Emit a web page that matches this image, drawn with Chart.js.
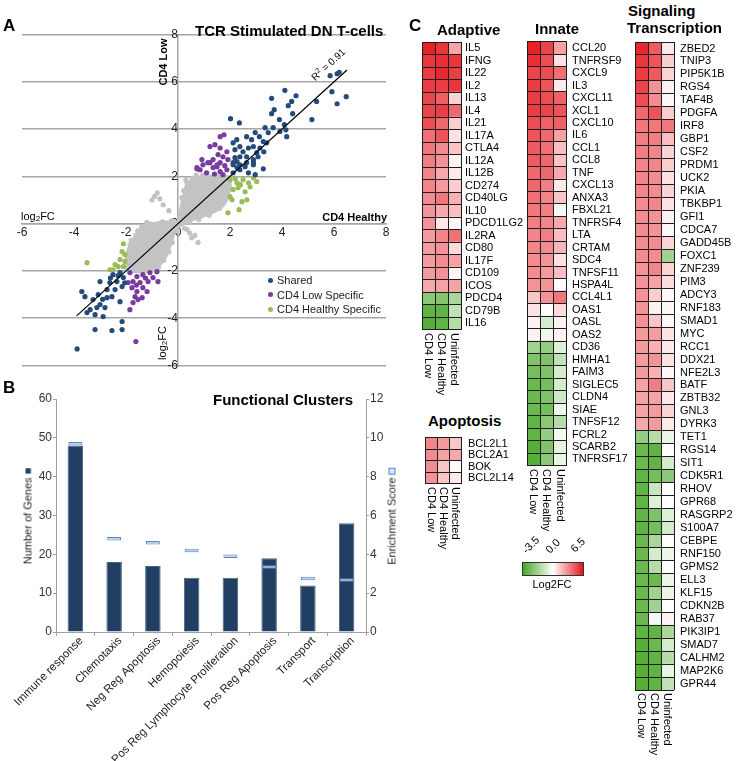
<!DOCTYPE html>
<html><head><meta charset="utf-8">
<script src="https://cdn.jsdelivr.net/npm/chart.js@4.4.0/dist/chart.umd.min.js"></script>
<style>
html,body{margin:0;padding:0;background:#fff;}
body{width:736px;height:761px;position:relative;overflow:hidden;font-family:'Liberation Sans',Arial,sans-serif;color:#000;}
.t{position:absolute;white-space:nowrap;line-height:1;}
canvas{position:absolute;}
</style></head><body>
<script>
// ---------------- DATA ----------------
// Panel A: log2FC (x = CD4 Healthy, y = CD4 Low)
const sharedPts = [[2.02,4.44],[2.36,4.26],[2.9,2.6],[4.11,5.64],[3.6,5.3],[4.54,5.41],[4.37,5.17],[4.24,4.99],[3.7,4.82],[3.6,4.65],[3.9,4.4],[4.41,4.65],[4.09,4.19],[3.92,3.9],[4.15,3.97],[4.18,3.68],[3.35,4.06],[3.47,3.85],[3.66,4.06],[2.97,3.85],[3.13,3.68],[2.64,3.68],[2.83,3.55],[3.28,3.47],[3.41,3.42],[2.9,3.26],[2.71,3.2],[3.15,3.2],[3.3,3.04],[3.03,3.0],[2.26,3.55],[2.12,3.42],[2.38,3.26],[2.19,3.13],[2.5,3.04],[2.64,2.83],[2.38,2.83],[2.19,2.79],[2.9,2.71],[3.08,2.83],[2.9,2.49],[2.64,2.58],[2.38,2.49],[2.12,2.49],[2.27,2.62],[2.12,2.58],[2.71,2.15],[2.97,2.07],[3.28,2.32],[2.38,2.28],[2.12,2.15],[2.58,2.41],[2.27,2.37],[5.85,6.26],[6.12,6.34],[6.2,6.4],[5.33,5.17],[5.92,5.58],[6.47,5.37],[6.12,5.07],[5.15,4.4],
  [-2.5,-2.16],[-2.23,-2.07],[-2.1,-2.28],[-2.35,-2.45],[-2.62,-2.49],[-2.15,-2.66],[-2.42,-2.79],[-2.73,-2.79],[-3.0,-2.45],[-3.07,-3.0],[-2.73,-3.13],[-3.27,-3.21],[-3.7,-2.87],[-3.58,-3.09],[-3.12,-3.55],[-2.81,-3.55],[-3.5,-3.76],[-3.19,-3.85],[-2.88,-3.93],[-2.23,-3.3],[-2.54,-3.09],[-3.0,-3.42],[-2.15,-4.14],[-3.19,-4.48],[-2.54,-4.52],[-2.15,-4.48],[-3.88,-5.3],[-3.38,-3.64],[-2.3,-2.2],[-2.05,-2.5],[-2.6,-2.3],[-2.9,-3.2]];
const lowSpecificPts = [[1.62,3.68],[1.77,3.76],[1.23,3.26],[1.42,3.34],[1.62,3.2],[1.88,3.04],[1.54,2.92],[1.73,2.83],[1.35,2.71],[1.15,2.58],[0.92,2.71],[0.73,2.37],[1.62,2.58],[1.92,2.71],[1.5,2.41],[0.85,2.28],[1.1,2.15],[1.35,2.37],[1.62,2.2],[1.88,2.28],[0.96,2.49],[1.5,2.49],[1.73,2.07],[0.73,2.32],[1.23,2.58],[1.8,2.45],[1.4,2.1],
  [-1.85,-2.07],[-1.58,-2.24],[-1.35,-2.16],[-1.08,-2.07],[-0.81,-2.03],[-1.73,-2.45],[-1.46,-2.49],[-1.15,-2.45],[-0.96,-2.28],[-0.77,-2.45],[-1.77,-2.71],[-1.58,-2.87],[-1.35,-2.71],[-1.19,-2.87],[-1.65,-3.09],[-1.38,-3.13],[-1.85,-3.64],[-1.73,-3.34],[-1.54,-3.21],[-1.92,-2.49],[-1.62,-4.99],[-1.25,-2.3],[-1.6,-2.6]];
const healthySpecificPts = [[2.0,1.86],[2.27,1.73],[2.5,1.86],[2.71,1.73],[2.9,1.94],[2.31,1.52],[2.12,1.44],[2.58,1.35],[2.77,1.56],[2.0,1.14],[2.08,1.01],[2.46,0.93],[2.65,1.01],[2.35,0.59],[1.92,0.46],[3.03,1.78],[2.2,1.9],[2.4,1.65],
  [-2.1,-0.85],[-3.5,-1.65],[-2.62,-1.95],[-2.42,-1.73],[-2.23,-1.52],[-2.04,-1.31],[-2.3,-1.82],[-2.1,-1.82],[-2.04,-1.6],[-2.5,-1.95],[-2.15,-1.18]];
const grayCloud = [[0.0,0.1],[0.1,0.7],[0.2,1.2],[0.3,1.6],[0.5,1.85],[0.9,2.02],[1.4,2.02],[1.98,1.98],[1.98,1.3],[1.75,0.75],[1.25,0.4],[0.7,0.2],[0.2,-0.05],[-0.05,-0.2],[-0.2,-0.65],[-0.45,-1.4],[-0.95,-1.97],[-1.96,-1.97],[-1.96,-1.2],[-1.72,-0.65],[-1.35,-0.1],[-0.8,0.05],[-0.3,0.1],[0.0,0.1]];
const grayPts = [[-1.0,1.0],[-0.8,1.3],[-0.57,0.8],[-0.7,1.05],[-0.35,0.55],[-0.9,1.15],[0.35,-0.25],[0.53,-0.6],[0.77,-0.8],[0.45,-0.4],[0.25,-0.2],[0.65,-0.5],
  [0.1,0.5],[0.15,1.1],[0.22,1.4],[0.35,1.7],[0.55,1.92],[0.95,2.05],[1.5,2.0],[1.85,1.85],[1.98,1.55],[1.9,1.15],[1.6,0.65],[1.2,0.35],[0.8,0.18],[0.45,0.08],
  [-0.08,-0.3],[-0.22,-0.8],[-0.35,-1.2],[-0.55,-1.55],[-0.75,-1.85],[-1.1,-1.97],[-1.5,-1.97],[-1.95,-1.75],[-1.97,-1.35],[-1.85,-0.9],[-1.62,-0.5],[-1.4,-0.15],[-1.05,-0.02],[-0.6,0.08],[-0.25,0.12],
  [-1.55,-0.3],[-1.2,0.05],[-1.8,-0.7],[1.75,1.0],[1.95,1.8],[0.3,1.85],[0.7,2.05]];
const fitLine = [[-3.9,-3.9],[6.5,6.5]];
const axisTicksA = [-6,-4,-2,0,2,4,6,8];

// Panel B
const clusters = ['Immune response','Chemotaxis','Neg Reg Apoptosis','Hemopoiesis','Pos Reg Lymphocyte Proliferation','Pos Reg Apoptosis','Transport','Transcription'];
const geneCounts = [48,18,17,14,14,19,12,28];
const enrichment = [9.7,4.8,4.6,4.2,3.9,3.35,2.75,2.68];

// Panel C heatmaps (log2FC: CD4 Low, CD4 Healthy, Uninfected)
const conditions = ['CD4 Low','CD4 Healthy','Uninfected'];
const adaptiveGenes = ['IL5','IFNG','IL22','IL2','IL13','IL4','IL21','IL17A','CTLA4','IL12A','IL12B','CD274','CD40LG','IL10','PDCD1LG2','IL2RA','CD80','IL17F','CD109','ICOS','PDCD4','CD79B','IL16'];
const adaptiveLow = [6.2,5.6,5.4,5.4,5.2,5.2,5.0,4.0,3.8,3.6,3.4,3.4,3.2,3.0,3.0,2.8,2.8,2.8,2.8,2.4,-2.2,-3.0,-3.2];
const adaptiveHealthy = [5.6,5.8,6.0,5.4,4.5,5.4,4.2,4.8,3.2,3.0,2.4,2.8,3.8,2.4,0.6,3.4,3.0,3.2,3.0,2.6,-2.3,-3.0,-3.0];
const adaptiveUninf = [2.5,5.6,5.4,5.6,1.2,4.2,1.4,0.8,1.6,0.4,0.6,1.4,2.2,1.8,0.2,4.0,1.0,2.6,0.3,2.6,-1.6,-1.2,-1.4];

const innateGenes = ['CCL20','TNFRSF9','CXCL9','IL3','CXCL11','XCL1','CXCL10','IL6','CCL1','CCL8','TNF','CXCL13','ANXA3','FBXL21','TNFRSF4','LTA','CRTAM','SDC4','TNFSF11','HSPA4L','CCL4L1','OAS1','OASL','OAS2','CD36','HMHA1','FAIM3','SIGLEC5','CLDN4','SIAE','TNFSF12','FCRL2','SCARB2','TNFRSF17'];
const innateLow = [6.2,5.8,5.2,5.4,5.4,5.4,5.0,4.8,4.6,4.6,4.2,4.2,4.0,3.8,3.6,3.4,3.4,3.2,3.2,3.0,1.6,0.8,0.4,0.4,-1.8,-2.4,-2.6,-2.8,-2.8,-2.8,-3.0,-3.0,-3.2,-3.2];
const innateHealthy = [5.2,5.0,5.0,4.8,5.0,5.2,4.4,4.2,4.0,4.2,4.2,3.6,3.4,3.6,3.4,3.6,3.2,3.0,2.8,3.0,3.0,0.0,-0.8,-0.3,-2.0,-2.4,-2.4,-2.6,-2.4,-2.6,-2.2,-2.0,-2.4,-2.2];
const innateUninf = [2.6,0.8,4.0,0.6,4.4,4.8,4.4,2.6,1.8,1.6,2.4,0.6,1.6,-0.2,2.4,1.8,2.0,0.8,1.8,0.1,3.8,1.0,0.4,0.4,-0.6,-1.2,-0.8,-0.8,-0.9,-0.3,-1.4,-0.2,-0.5,-0.4];

const apoptosisGenes = ['BCL2L1','BCL2A1','BOK','BCL2L14'];
const apoptosisLow = [3.4,3.2,3.2,3.0];
const apoptosisHealthy = [2.8,2.6,1.6,1.6];
const apoptosisUninf = [1.6,2.4,0.1,0.6];

const signalingGenes = ['ZBED2','TNIP3','PIP5K1B','RGS4','TAF4B','PDGFA','IRF8','GBP1','CSF2','PRDM1','UCK2','PKIA','TBKBP1','GFI1','CDCA7','GADD45B','FOXC1','ZNF239','PIM3','ADCY3','RNF183','SMAD1','MYC','RCC1','DDX21','NFE2L3','BATF','ZBTB32','GNL3','DYRK3','TET1','RGS14','SIT1','CDK5R1','RHOV','GPR68','RASGRP2','S100A7','CEBPE','RNF150','GPMS2','ELL3','KLF15','CDKN2B','RAB37','PIK3IP1','SMAD7','CALHM2','MAP2K6','GPR44'];
const signalingLow = [6.0,5.6,5.4,5.2,5.0,4.2,3.8,3.6,3.6,3.4,3.4,3.4,3.2,3.2,3.2,3.2,3.2,3.0,3.0,3.0,3.0,3.0,2.8,2.8,2.8,2.8,2.6,2.6,2.6,2.4,-2.0,-2.8,-2.8,-3.0,-3.0,-3.0,-3.0,-3.0,-2.8,-2.8,-2.8,-2.8,-2.8,-2.8,-2.8,-3.0,-3.2,-3.2,-3.2,-3.2];
const signalingHealthy = [4.6,4.8,4.6,3.0,3.2,4.8,3.8,3.6,3.4,3.4,3.2,3.2,3.4,3.0,3.0,3.2,3.2,3.4,2.6,1.4,0.4,1.6,2.8,2.2,3.0,2.2,3.6,2.6,2.8,2.8,-1.4,-3.0,-3.0,-2.6,-1.0,-0.6,-2.4,-2.6,-1.6,-0.8,-1.4,-2.8,-1.8,-1.8,-0.2,-3.0,-2.8,-3.0,-3.0,-3.0];
const signalingUninf = [0.6,1.4,1.2,0.4,0.2,1.4,3.8,1.8,1.2,1.4,0.8,1.2,0.8,0.4,0.2,1.2,-1.8,1.2,1.0,0.2,0.2,0.2,0.8,0.6,0.8,0.2,1.6,0.6,1.2,0.6,-0.4,0.0,-0.8,-2.2,0.0,0.0,-0.6,-0.8,0.0,-0.4,0.0,-0.4,-0.4,0.0,0.3,-1.6,-0.8,-1.4,-0.4,-1.2];
const colorScaleTicks = ['-3.5','0.0','6.5'];

// ---------------- HELPERS ----------------
Chart.defaults.font.family = "'Liberation Sans', Arial, sans-serif";
Chart.defaults.color = '#222';
Chart.defaults.animation = false;

function mk(left, top, w, h) {
  const c = document.createElement('canvas');
  c.width = w; c.height = h;
  c.style.left = left + 'px'; c.style.top = top + 'px';
  c.style.width = w + 'px'; c.style.height = h + 'px';
  document.body.appendChild(c);
  return c;
}
function label(html, x, y, o) {
  o = o || {};
  const d = document.createElement('div');
  d.className = 't';
  d.innerHTML = html;
  d.style.fontSize = (o.size || 11) + 'px';
  if (o.bold) d.style.fontWeight = 'bold';
  if (o.color) d.style.color = o.color;
  d.style.left = x + 'px'; d.style.top = y + 'px';
  if (o.anchor === 'left') d.style.transform = 'translate(0,-50%)';
  else if (o.anchor === 'right') d.style.transform = 'translate(-100%,-50%)';
  else if (o.anchor === 'down') { d.style.transformOrigin = '0 0'; d.style.transform = 'rotate(90deg) translate(0,-50%)'; }
  else d.style.transform = 'translate(-50%,-50%) rotate(' + (o.rot || 0) + 'deg)';
  document.body.appendChild(d);
  return d;
}
const toXY = a => a.map(p => ({x: p[0], y: p[1]}));
function fcColor(v) {
  let r, g, b, t;
  if (v >= 0) { t = Math.min(v / 6.5, 1); r = 255 + (230 - 255) * t; g = 255 + (22 - 255) * t; b = 255 + (30 - 255) * t; }
  else { t = Math.min(-v / 3.5, 1); r = 255 + (70 - 255) * t; g = 255 + (166 - 255) * t; b = 255 + (38 - 255) * t; }
  return 'rgb(' + Math.round(r) + ',' + Math.round(g) + ',' + Math.round(b) + ')';
}
const noInteract = {events: [], responsive: false, animation: false, plugins: {legend: {display: false}, tooltip: {enabled: false}}};

// ---------------- PANEL A ----------------
const cA = mk(0, 0, 400, 380);
new Chart(cA, {
  type: 'scatter',
  data: {datasets: [
    {data: toXY(fitLine), showLine: true, borderColor: '#000', borderWidth: 1.2, pointRadius: 0, order: 0},
    {data: toXY(sharedPts), backgroundColor: '#254b7b', borderWidth: 0, pointRadius: 2.6, order: 1},
    {data: toXY(lowSpecificPts), backgroundColor: '#7a3b9f', borderWidth: 0, pointRadius: 2.6, order: 2},
    {data: toXY(healthySpecificPts), backgroundColor: '#9bbb59', borderWidth: 0, pointRadius: 2.6, order: 3},
    {data: toXY(grayPts), backgroundColor: '#c3c3c3', borderWidth: 0, pointRadius: 2.6, order: 4},
    {data: toXY(grayCloud), showLine: true, fill: 'shape', backgroundColor: '#c3c3c3', borderColor: '#c3c3c3', borderWidth: 2, pointRadius: 0, tension: 0.3, order: 5}
  ]},
  options: Object.assign({}, noInteract, {
    layout: {padding: {left: 22, right: 14, top: 34.5, bottom: 14.5}},
    scales: {
      x: {type: 'linear', min: -6, max: 8, position: {y: 0},
          afterBuildTicks: s => { s.ticks = axisTicksA.map(v => ({value: v})); },
          ticks: {font: {size: 12}, color: '#222', padding: 2},
          grid: {display: false, drawTicks: false},
          border: {display: true, color: '#a6a6a6', width: 1.5}},
      y: {type: 'linear', min: -6, max: 8, position: {x: 0},
          afterBuildTicks: s => { s.ticks = axisTicksA.map(v => ({value: v})); },
          ticks: {font: {size: 12}, color: '#222', padding: 3},
          grid: {color: '#a6a6a6', lineWidth: 1.5, drawTicks: false},
          border: {display: true, color: '#a6a6a6', width: 1.5}}
    }
  })
});
label('A', 3, 25, {size: 17, bold: true, anchor: 'left'});
label('TCR Stimulated DN T-cells', 195, 30, {size: 15, bold: true, anchor: 'left'});
label('CD4 Low', 163, 62, {size: 11, bold: true, rot: -90});
label('log<sub style="font-size:8px;vertical-align:-1px">2</sub>FC', 163, 343, {size: 11, rot: -90});
label('log<sub style="font-size:8px;vertical-align:-1px">2</sub>FC', 21, 217, {size: 11, anchor: 'left'});
label('CD4 Healthy', 387, 217, {size: 11, bold: true, anchor: 'right'});
label('R<sup style="font-size:7px;vertical-align:4px">2</sup> = 0.91', 328, 64, {size: 10, rot: -43});
[['Shared', '#254b7b', 280], ['CD4 Low Specific', '#7a3b9f', 294.5], ['CD4 Healthy Specific', '#9bbb59', 309]].forEach(it => {
  const dot = document.createElement('div');
  dot.style.cssText = 'position:absolute;width:5px;height:5px;border-radius:50%;background:' + it[1] + ';left:267.5px;top:' + (it[2] - 2.5) + 'px;';
  document.body.appendChild(dot);
  label(it[0], 277, it[2], {size: 11, anchor: 'left', color: '#222'});
});

// ---------------- PANEL B ----------------
const cB = mk(0, 385, 410, 376);
new Chart(cB, {
  type: 'bar',
  data: {labels: clusters, datasets: [
    {label: 'Number of Genes', data: geneCounts, yAxisID: 'y', backgroundColor: '#213f62', borderColor: '#4a6484', borderWidth: 1,
     barPercentage: 0.4, categoryPercentage: 1, grouped: false, order: 2},
    {label: 'Enrichment Score', data: enrichment.map(e => [e - 0.09, e + 0.09]), yAxisID: 'y1', backgroundColor: '#bcd3ec', borderColor: '#5a86bf',
     borderWidth: 1, borderSkipped: false, barPercentage: 0.36, categoryPercentage: 1, grouped: false, order: 1}
  ]},
  options: Object.assign({}, noInteract, {
    layout: {padding: {top: 14, left: 0, right: 0, bottom: 0}},
    scales: {
      x: {grid: {drawOnChartArea: false, drawTicks: true, tickLength: 4, color: '#a0a0a0', offset: true},
          border: {color: '#a0a0a0', width: 1},
          ticks: {minRotation: 45, maxRotation: 45, autoSkip: false, font: {size: 11.5}, color: '#222', padding: -2, labelOffset: 6},
          afterFit: s => { s.height = 129; s.paddingLeft = 0; s.paddingRight = 0; }},
      y: {position: 'left', min: 0, max: 60, ticks: {stepSize: 10, font: {size: 12}, color: '#333', padding: 1},
          grid: {drawOnChartArea: false, tickLength: 3, color: '#a0a0a0'}, border: {color: '#a0a0a0'},
          afterFit: s => { s.width = 56; s.paddingTop = 0; s.paddingBottom = 0; }},
      y1: {position: 'right', min: 0, max: 12, ticks: {stepSize: 2, font: {size: 12}, color: '#333', padding: 1},
          grid: {drawOnChartArea: false, tickLength: 3, color: '#a0a0a0'}, border: {color: '#a0a0a0'},
          afterFit: s => { s.width = 44; s.paddingTop = 0; s.paddingBottom = 0; }}
    }
  })
});
label('B', 3, 387, {size: 17, bold: true, anchor: 'left'});
label('Functional Clusters', 213, 399, {size: 15, bold: true, anchor: 'left'});
label('Number of Genes <span style="color:#213f62">&#9632;</span>', 28, 516, {size: 11, rot: -90, color: '#222'});
label('Enrichment Score <span style="display:inline-block;width:5px;height:5px;border:1.5px solid #3f8fd6;background:#d4e6f8;vertical-align:0px"></span>', 392, 516, {size: 11, rot: -90, color: '#222'});

// ---------------- PANEL C ----------------
function heatmap(genes, cols, left, top, cellW, rowH, gap, labelW) {
  const cw = cellW * 3, H = rowH * genes.length;
  const W = Math.round(1 + cw + labelW), CH = Math.round(H + 2);
  const c = mk(left - 1, top - 1, W, CH);
  new Chart(c, {
    type: 'bar',
    data: {labels: genes, datasets: cols.map((vals, i) => ({
      label: conditions[i],
      data: vals.map(() => 1),
      backgroundColor: vals.map(fcColor),
      borderWidth: 0,
      categoryPercentage: 1, barPercentage: 1
    }))},
    options: Object.assign({}, noInteract, {
      indexAxis: 'y',
      layout: {padding: {left: 1, top: 1, right: 0, bottom: CH - H - 1}},
      scales: {
        x: {stacked: true, min: 0, max: 3, display: true,
            ticks: {display: false, stepSize: 1},
            grid: {color: '#1e1e1e', lineWidth: 1, drawTicks: false, z: 1},
            border: {display: false},
            afterFit: s => { s.height = 0; s.paddingLeft = 0; s.paddingRight = 0; }},
        y: {stacked: true, position: 'right',
            grid: {display: true, color: '#1e1e1e', lineWidth: 1, drawTicks: false, offset: true, z: 1},
            border: {display: false},
            ticks: {padding: gap, color: '#000', font: {size: 11}, autoSkip: false},
            afterFit: s => { s.width = W - 1 - cw; s.paddingTop = 0; s.paddingBottom = 0; }}
      }
    })
  });
  const bottom = top + H;
  conditions.forEach((name, i) => label(name, left + cellW * (i + 0.5) - 0.5, bottom + 3, {size: 11, anchor: 'down'}));
}
label('C', 409, 25, {size: 17, bold: true, anchor: 'left'});
label('Adaptive', 437, 29, {size: 15, bold: true, anchor: 'left'});
label('Innate', 535, 28, {size: 15, bold: true, anchor: 'left'});
label('Signaling', 628, 10, {size: 15, bold: true, anchor: 'left'});
label('Transcription', 627, 27, {size: 15, bold: true, anchor: 'left'});
label('Apoptosis', 428, 420, {size: 15, bold: true, anchor: 'left'});

heatmap(adaptiveGenes, [adaptiveLow, adaptiveHealthy, adaptiveUninf], 422, 42, 13, 12.5, 4, 62);
heatmap(innateGenes, [innateLow, innateHealthy, innateUninf], 527, 42, 13.33, 12.46, 5, 62);
heatmap(apoptosisGenes, [apoptosisLow, apoptosisHealthy, apoptosisUninf], 425, 438, 12.3, 11.4, 6, 55);
heatmap(signalingGenes, [signalingLow, signalingHealthy, signalingUninf], 635, 42, 13, 12.96, 6, 60);

// colour scale legend
const bar = document.createElement('div');
bar.style.cssText = 'position:absolute;left:522px;top:562px;width:60px;height:12px;border:1px solid #333;background:linear-gradient(to right,' + fcColor(-3.5) + ' 0%, #ffffff 50%,' + fcColor(6.5) + ' 100%);';
document.body.appendChild(bar);
label(colorScaleTicks[0], 531, 545, {size: 11, rot: -45});
label(colorScaleTicks[1], 553, 546, {size: 11, rot: -45});
label(colorScaleTicks[2], 578, 545, {size: 11, rot: -45});
label('Log2FC', 552, 584, {size: 11});
</script>
</body></html>
